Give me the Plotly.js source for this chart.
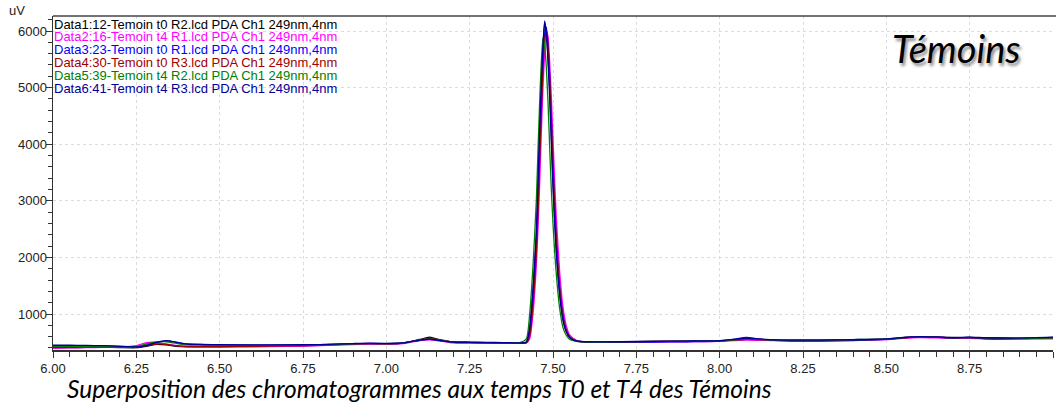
<!DOCTYPE html>
<html>
<head>
<meta charset="utf-8">
<script src="https://cdn.plot.ly/plotly-3.0.1.min.js"></script>
<style>html,body{margin:0;padding:0;background:#fff;}#chart{width:1056px;height:406px;}</style>
</head>
<body>
<div id="chart"></div>
<script>
// Retention time (min)
const timeMin = [6.00,6.05,6.10,6.15,6.20,6.25,6.28,6.31,6.34,6.37,6.40,6.45,6.50,6.60,6.70,6.80,6.90,6.95,7.00,7.05,7.10,7.13,7.16,7.20,7.25,7.30,7.35,
  7.40,7.42,7.43,7.44,7.45,7.455,7.46,7.465,7.47,7.475,7.48,7.485,7.49,7.495,7.50,7.505,7.51,7.52,7.53,7.54,7.55,7.57,7.60,
  7.70,7.80,7.90,8.00,8.05,8.08,8.12,8.20,8.30,8.40,8.50,8.55,8.60,8.65,8.70,8.75,8.80,8.90,9.00];

const seriesNames = [
  "Data1:12-Temoin t0 R2.lcd PDA Ch1 249nm,4nm",
  "Data2:16-Temoin t4 R1.lcd PDA Ch1 249nm,4nm",
  "Data3:23-Temoin t0 R1.lcd PDA Ch1 249nm,4nm",
  "Data4:30-Temoin t0 R3.lcd PDA Ch1 249nm,4nm",
  "Data5:39-Temoin t4 R2.lcd PDA Ch1 249nm,4nm",
  "Data6:41-Temoin t4 R3.lcd PDA Ch1 249nm,4nm"
];
const seriesColors = ["#000000","#ff00ff","#0000ff","#a00000","#008000","#000099"];

// Absorbance (uV)
const data1 = [400,405,410,410,408,405,430,465,455,430,420,418,420,425,432,445,470,475,470,485,550,590,545,505,500,495,495,
  495,500,720,1380,2350,3200,4150,4950,5650,6140,5980,5550,4950,4150,3350,2700,2150,1380,910,690,585,520,505,
  505,515,520,525,540,550,545,535,535,545,555,580,595,590,580,580,575,570,575];
const data2 = [395,400,405,410,415,440,495,500,470,440,425,420,420,422,428,440,460,465,462,475,530,545,525,490,485,482,480,
  480,485,560,1000,1850,2500,3300,4200,5000,5600,6000,5900,5450,4850,4100,3350,2700,1750,1120,790,630,535,505,
  498,505,510,515,530,540,535,525,525,535,548,570,585,580,570,570,560,555,560];
const data3 = [440,440,438,435,425,415,440,495,525,505,472,460,455,450,452,458,475,480,478,488,535,550,530,500,495,492,490,
  485,495,650,1250,2200,2950,3850,4700,5450,5950,6070,5750,5200,4450,3650,2950,2350,1500,980,720,600,525,510,
  500,505,510,520,560,585,555,525,520,530,550,580,595,590,575,585,560,565,585];
const data4 = [410,412,415,415,412,410,440,470,465,440,428,425,425,430,438,450,472,478,474,486,545,565,540,502,498,494,492,
  490,495,620,1180,2100,2850,3750,4600,5350,5850,5990,5700,5150,4400,3600,2900,2300,1460,960,710,595,525,508,
  506,516,521,527,542,552,547,537,537,546,556,580,594,590,580,582,576,570,577];
const data5 = [430,430,428,425,420,425,470,505,510,480,455,448,445,445,448,455,472,478,475,488,540,560,535,505,500,496,495,
  495,560,1000,1850,3000,3900,4750,5450,5880,5750,5350,4750,3950,3200,2600,2100,1700,1100,760,620,550,515,505,
  508,515,520,528,545,555,550,538,538,548,558,582,596,592,582,585,578,572,580];
const data6 = [450,448,445,440,430,420,445,500,528,500,470,462,458,455,455,460,478,485,480,490,540,555,535,505,500,498,495,
  490,505,760,1450,2450,3320,4280,5080,5760,6180,5950,5480,4850,4050,3250,2620,2080,1340,890,680,580,525,510,
  510,518,522,530,555,575,560,540,540,548,560,585,600,595,585,590,580,575,590];

const allSeries = [data1,data2,data3,data4,data5,data6];

const xTickVals = [6.00,6.25,6.50,6.75,7.00,7.25,7.50,7.75,8.00,8.25,8.50,8.75,9.00];
const xTickText = ["6.00","6.25","6.50","6.75","7.00","7.25","7.50","7.75","8.00","8.25","8.50","8.75","min"];
const yTickVals = [1000,2000,3000,4000,5000,6000];
const yTickText = ["1000","2000","3000","4000","5000","6000"];

const yUnit = "uV";
const stampText = "Témoins";
const captionText = "Superposition des chromatogrammes aux temps T0 et T4 des Témoins";

const traces = allSeries.map((ys, i) => ({
  type: "scatter", mode: "lines", x: timeMin, y: ys, name: seriesNames[i],
  line: {color: seriesColors[i], width: 1.3, shape: "spline", smoothing: 0.6},
  hoverinfo: "skip"
}));

const sans = "Arial, 'Liberation Sans', sans-serif";
const tickFont = {family: sans, size: 13, color: "#222"};
const legendY = [0.9760,0.9377,0.8994,0.8611,0.8228,0.7844];

const annotations = seriesNames.map((t, i) => ({
  xref: "paper", yref: "paper", x: 0, y: legendY[i], xanchor: "left", yanchor: "middle",
  text: t, showarrow: false, borderpad: 0,
  font: {family: sans, size: 13, color: seriesColors[i]}
}));
annotations.push({
  xref: "paper", yref: "paper", x: -0.036, y: 1.016, xanchor: "center", yanchor: "middle",
  text: yUnit, showarrow: false, font: {family: sans, size: 13, color: "#222"}
});
annotations.push({
  xref: "paper", yref: "paper", x: 0.903, y: 0.905, xanchor: "center", yanchor: "middle",
  text: "<i>" + stampText + "</i>", showarrow: false,
  font: {family: "Lato, 'Open Sans', sans-serif", size: 38, color: "#000", shadow: "2px 3px 3px rgba(0,0,0,0.45)"}
});
annotations.push({
  xref: "paper", yref: "paper", x: 0.366, y: -0.114, xanchor: "center", yanchor: "middle",
  text: "<i>" + captionText + "</i>", showarrow: false,
  font: {family: "Lato, 'Open Sans', sans-serif", size: 24.5, color: "#000"}
});

const layout = {
  width: 1056, height: 406,
  margin: {l: 53, r: 3, t: 16, b: 56, pad: 0},
  paper_bgcolor: "#fff", plot_bgcolor: "#fff",
  showlegend: false,
  xaxis: {
    range: [6, 9], tickmode: "array", tickvals: xTickVals, ticktext: xTickText,
    showline: true, linecolor: "#333", linewidth: 1.5, ticks: "outside", ticklen: 6, tickcolor: "#333",
    showgrid: true, gridcolor: "#dcdcdc", griddash: "dot", gridwidth: 1, zeroline: false,
    tickfont: tickFont,
    minor: {tickmode: "linear", tick0: 6, dtick: 0.05, ticks: "outside", ticklen: 5, tickcolor: "#333", showgrid: false}
  },
  yaxis: {
    range: [364, 6265], tickmode: "array", tickvals: yTickVals, ticktext: yTickText,
    showline: true, linecolor: "#333", linewidth: 1.5, ticks: "outside", ticklen: 6, tickcolor: "#333",
    ticklabelstandoff: -4,
    showgrid: true, gridcolor: "#dcdcdc", griddash: "dot", gridwidth: 1, zeroline: false,
    tickfont: tickFont,
    minor: {tickmode: "linear", tick0: 0, dtick: 200, ticks: "outside", ticklen: 4, tickcolor: "#333", showgrid: false}
  },
  shapes: [{type: "line", xref: "paper", yref: "paper", x0: 0, x1: 1.003, y0: 1, y1: 1, line: {color: "#444", width: 1.5}}],
  annotations: annotations
};

Plotly.newPlot("chart", traces, layout, {staticPlot: true, displayModeBar: false});
</script>
</body>
</html>
